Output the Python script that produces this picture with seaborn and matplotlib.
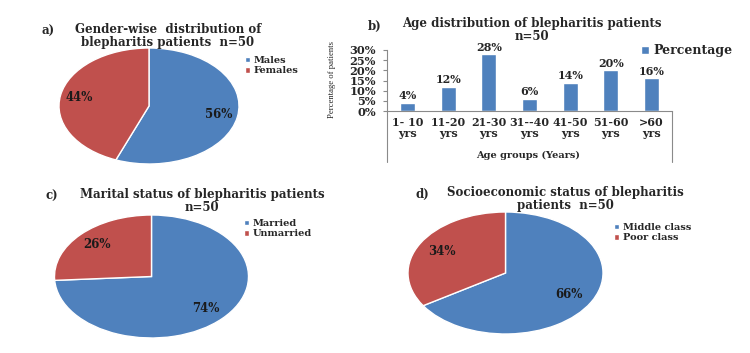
import numpy as np
import pandas as pd
import matplotlib
matplotlib.use("Agg")
import matplotlib.pyplot as plt
import seaborn as sns

# data
gender_labels = ["Males", "Females"]
gender_pct = [56, 44]

age_groups = ["1- 10\nyrs", "11-20\nyrs", "21-30\nyrs", "31--40\nyrs", "41-50\nyrs", "51-60\nyrs", ">60\nyrs"]
age_pct = [4, 12, 28, 6, 14, 20, 16]

marital_labels = ["Married", "Unmarried"]
marital_pct = [74, 26]

socio_labels = ["Middle class", "Poor class"]
socio_pct = [66, 34]

BLUE = "#4F81BD"
RED = "#C0504D"
AXIS_GRAY = "#8a8a8a"

sns.set_style("white")
plt.rcParams["font.family"] = ["DejaVu Serif"]
plt.rcParams["font.weight"] = "bold"

W, H = 750, 353
fig = plt.figure(figsize=(W / 100, H / 100), dpi=100)


def fx(x):
    return x / W


def fy(y):
    return 1 - y / H


def title(x, y, s, size=8.5, ha="center"):
    # two-line titles are a single text object, tight line spacing
    fig.text(fx(x), fy(y), s, ha=ha, va="center", fontsize=size, fontweight="bold",
             linespacing=0.95, multialignment="center")


def pie_panel(cx, cy, rx, ry, values, labels, pctdist, leg_x, leg_y):
    pad = 1.04
    ax = fig.add_axes([fx(cx - rx * pad), fy(cy + ry * pad), 2 * rx * pad / W, 2 * ry * pad / H])
    wedges, texts, autotexts = ax.pie(
        values, colors=[BLUE, RED], startangle=90, counterclock=False,
        autopct="%1.0f%%", pctdistance=pctdist,
        wedgeprops=dict(edgecolor="white", linewidth=1.0),
        textprops=dict(fontsize=8.5, fontweight="bold", color="#1a1a1a"),
    )
    ax.set_aspect("auto")
    ax.set_xlim(-pad, pad)
    ax.set_ylim(-pad, pad)
    fig.legend(wedges, labels, loc="upper left", bbox_to_anchor=(fx(leg_x), fy(leg_y)),
               bbox_transform=fig.transFigure, frameon=False, handlelength=0.55,
               handleheight=0.55, handletextpad=0.35, labelspacing=0.15,
               borderpad=0, borderaxespad=0, prop=dict(size=7, weight="bold"))
    return ax


# a) gender
title(41, 31, "a)", ha="left")
title(168, 36, "Gender-wise  distribution of\nblepharitis patients  n=50")
pie_panel(149, 106, 90, 58, gender_pct, gender_labels, 0.79, 245, 56)

# c) marital
title(45, 196, "c)", ha="left")
title(202, 201, "Marital status of blepharitis patients\nn=50")
pie_panel(151.5, 276.5, 97, 61.5, marital_pct, marital_labels, 0.77, 244, 219)

# d) socioeconomic
title(415, 194, "d)", ha="left")
title(565, 199, "Socioeconomic status of blepharitis\npatients  n=50")
pie_panel(505.5, 273, 97.5, 61, socio_pct, socio_labels, 0.74, 614, 223)

# b) age distribution bar chart
title(368, 26, "b)", ha="left")
title(532, 30, "Age distribution of blepharitis patients\nn=50")

x0, x1, ytop, ybot = 387, 672, 50, 111
ax = fig.add_axes([fx(x0), fy(ybot), (x1 - x0) / W, (ybot - ytop) / H])
df = pd.DataFrame({"group": age_groups, "pct": age_pct})
sns.barplot(data=df, x="group", y="pct", color=BLUE, saturation=1, width=0.37,
            label="Percentage", ax=ax)
ax.set_xlim(-0.5, len(age_groups) - 0.5)
ax.set_ylim(0, 30)
ax.set_yticks(range(0, 31, 5))
ax.set_yticklabels([f"{v}%" for v in range(0, 31, 5)], fontsize=8.2, fontweight="bold")
ax.set_xticks(range(len(age_groups)))
ax.set_xticklabels(age_groups, fontsize=8, fontweight="bold", linespacing=1.05)
ax.set_xticks(np.arange(-0.5, len(age_groups)), minor=True)
ax.tick_params(axis="x", which="major", length=0, pad=4)
ax.tick_params(axis="x", which="minor", length=23, width=0.8, color=AXIS_GRAY, direction="out")
ax.tick_params(axis="y", which="major", length=3, width=0.8, color=AXIS_GRAY, pad=5, left=True)
ax.set_xlabel("")
ax.set_ylabel("")
for side in ["top", "right"]:
    ax.spines[side].set_visible(False)
for side in ["left", "bottom"]:
    ax.spines[side].set_color(AXIS_GRAY)
    ax.spines[side].set_linewidth(0.8)
ext = -(162 - ybot) / (ybot - ytop)
for xa in [0, 1]:
    ax.plot([xa, xa], [0, ext], transform=ax.transAxes, color=AXIS_GRAY, lw=0.8, clip_on=False)
ax.bar_label(ax.containers[0], labels=[f"{v}%" for v in age_pct], padding=1,
             fontsize=8, fontweight="bold")
ax.legend(loc="upper left", bbox_to_anchor=(fx(641), fy(44)), bbox_transform=fig.transFigure,
          frameon=False, handlelength=0.6, handleheight=0.6, handletextpad=0.4,
          borderpad=0, borderaxespad=0, prop=dict(size=9, weight="bold"))
fig.text(fx(528), fy(155), "Age groups (Years)", ha="center", va="center",
         fontsize=7, fontweight="bold")
fig.text(fx(332), fy(80), "Percentage of patients", ha="center", va="center",
         rotation=90, fontsize=6.2, fontweight="normal", family="Liberation Serif")

fig.savefig("out.png", dpi=100)
